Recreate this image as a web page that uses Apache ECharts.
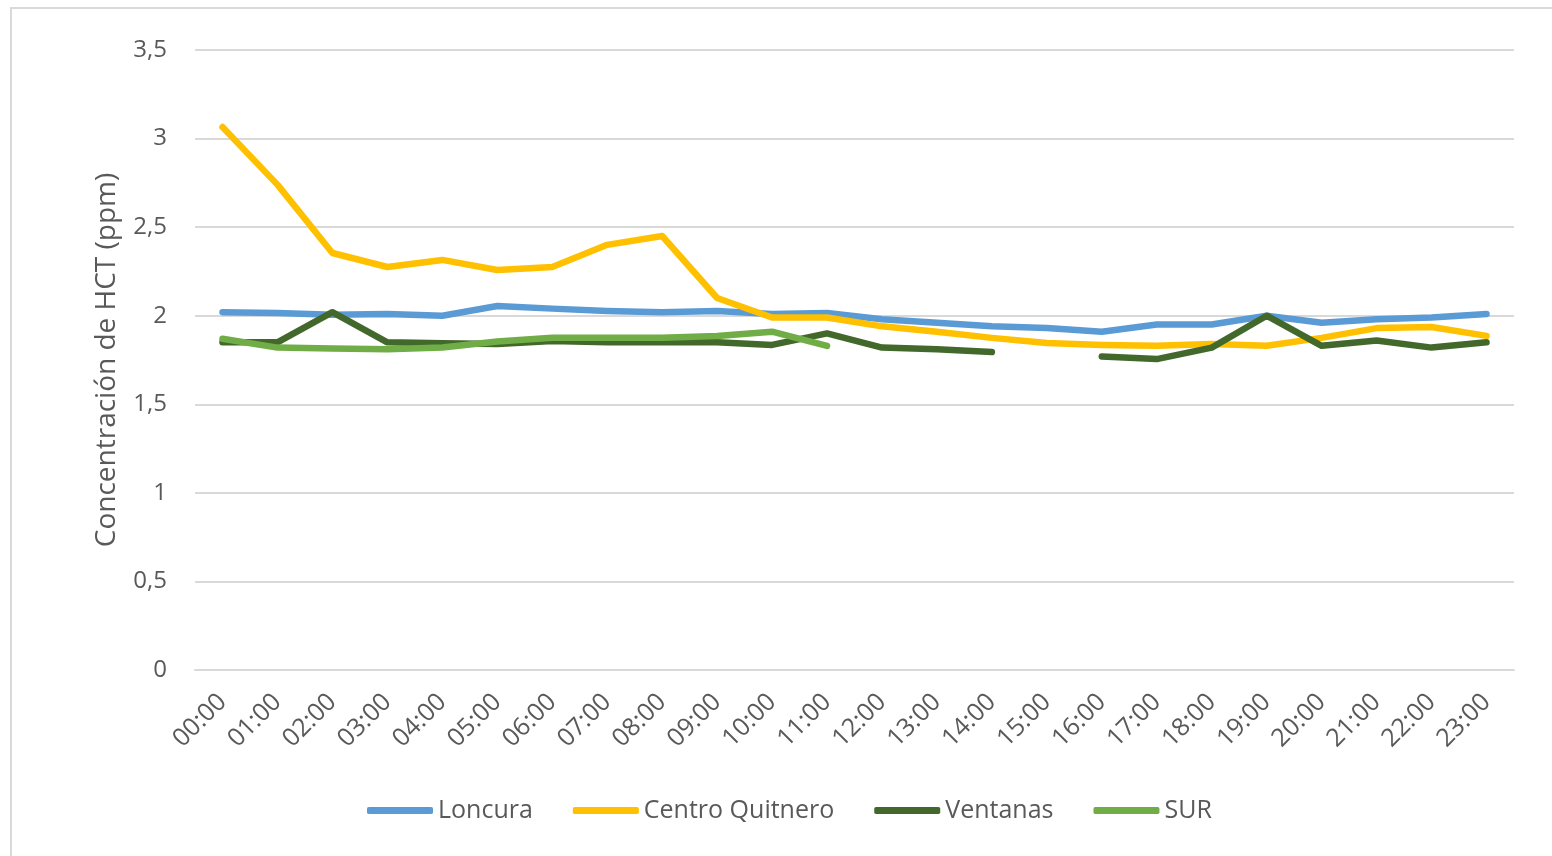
<!DOCTYPE html>
<html>
<head>
<meta charset="utf-8">
<script src="https://cdn.jsdelivr.net/npm/echarts@6/dist/echarts.min.js"></script>
<style>
html,body{margin:0;padding:0;background:#fff;}
#frame{position:absolute;left:10px;top:7px;width:1560px;height:860px;border:2px solid #d9d9d9;box-sizing:border-box;}
#chart{position:absolute;left:0;top:0;width:1552px;height:856px;}
</style>
</head>
<body>
<div id="frame"></div>
<div id="chart"></div>
<script>
const categories = ['00:00','01:00','02:00','03:00','04:00','05:00','06:00','07:00','08:00','09:00','10:00','11:00','12:00','13:00','14:00','15:00','16:00','17:00','18:00','19:00','20:00','21:00','22:00','23:00'];
const loncura = [2.02,2.015,2.005,2.01,2.0,2.055,2.04,2.027,2.02,2.027,2.01,2.015,1.98,1.96,1.94,1.93,1.91,1.95,1.95,2.0,1.96,1.98,1.99,2.01];
const centroQuitnero = [3.065,2.74,2.354,2.275,2.315,2.258,2.275,2.40,2.45,2.10,1.99,1.99,1.94,1.91,1.875,1.846,1.835,1.83,1.84,1.83,1.875,1.93,1.936,1.886];
const ventanas = [1.85,1.85,2.02,1.85,1.845,1.84,1.857,1.85,1.85,1.85,1.835,1.90,1.82,1.81,1.795,null,1.77,1.755,1.82,2.0,1.83,1.86,1.82,1.85];
const sur = [1.87,1.82,1.815,1.81,1.82,1.855,1.875,1.875,1.875,1.885,1.91,1.83,null,null,null,null,null,null,null,null,null,null,null,null];
const yTicks = {0:'0',0.5:'0,5',1:'1',1.5:'1,5',2:'2',2.5:'2,5',3:'3',3.5:'3,5'};

const FONT = '"Open Sans", "Noto Sans", sans-serif';
const chart = echarts.init(document.getElementById('chart'), null, {renderer:'canvas'});
function mk(name, data, color){
  return {name, type:'line', data, showSymbol:false, symbol:'none', connectNulls:false,
    lineStyle:{width:6.5, color, cap:'round', join:'round'}, itemStyle:{color}, animation:false};
}
chart.setOption({
  animation:false,
  grid:{left:195, right:38, top:50, bottom:186, containLabel:false},
  legend:{
    bottom:28, left:362, itemWidth:66, itemHeight:7, itemGap:40, icon:'roundRect',
    textStyle:{color:'#595959', fontSize:25, fontFamily:FONT},
    data:['Loncura','Centro Quitnero','Ventanas','SUR']
  },
  xAxis:{
    type:'category', data:categories, boundaryGap:true,
    axisLine:{show:true, lineStyle:{color:'#d9d9d9', width:2}},
    axisTick:{show:false},
    axisLabel:{rotate:45, color:'#595959', fontSize:25, fontFamily:FONT, interval:0, margin:28}
  },
  yAxis:{
    type:'value', min:0, max:3.5, interval:0.5,
    name:'Concentración de HCT (ppm)', nameLocation:'middle', nameGap:74, nameRotate:90,
    nameTextStyle:{color:'#595959', fontSize:28, fontFamily:FONT},
    axisLine:{show:false}, axisTick:{show:false},
    splitLine:{lineStyle:{color:'#d9d9d9', width:2}},
    axisLabel:{color:'#595959', fontSize:24, fontFamily:FONT, margin:28, formatter:v=>yTicks[v] !== undefined ? yTicks[v] : String(v).replace('.',',')}
  },
  series:[
    mk('Loncura', loncura, '#5B9BD5'),
    mk('Centro Quitnero', centroQuitnero, '#FFC000'),
    mk('Ventanas', ventanas, '#43682B'),
    mk('SUR', sur, '#70AD47')
  ]
});
</script>
</body>
</html>
